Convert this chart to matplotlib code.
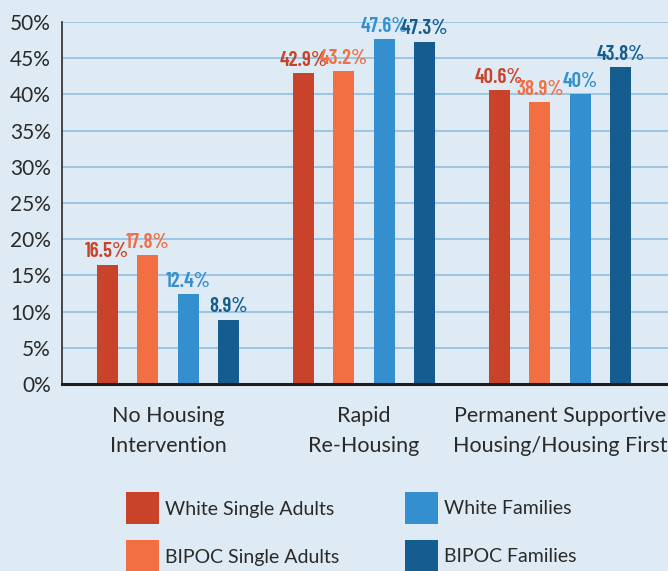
import numpy as np
import matplotlib
matplotlib.use("Agg")
import matplotlib.pyplot as plt
from matplotlib.patches import Rectangle

categories = ["No Housing\nIntervention", "Rapid\nRe-Housing", "Permanent Supportive\nHousing/Housing First"]
series = ["White Single Adults", "BIPOC Single Adults", "White Families", "BIPOC Families"]
values = [
    [16.5, 42.9, 40.6],
    [17.8, 43.2, 38.9],
    [12.4, 47.6, 40.0],
    [8.9, 47.3, 43.8],
]
value_labels = [
    ["16.5%", "42.9%", "40.6%"],
    ["17.8%", "43.2%", "38.9%"],
    ["12.4%", "47.6%", "40%"],
    ["8.9%", "47.3%", "43.8%"],
]
colors = ["#c9432a", "#f26f44", "#348fcf", "#155d8f"]
bg = "#deebf4"
txt = "#2a2a2a"

fig = plt.figure(figsize=(6.68, 5.71), dpi=100, facecolor=bg)
ax = fig.add_axes([62/668, 187/571, 606/668, 362/571])
ax.set_facecolor(bg)

x = np.arange(len(categories))
width = 0.107
offsets = np.array([-1.5, -0.5, 0.5, 1.5]) * 0.207

for i in range(len(series)):
    ax.bar(x + offsets[i], values[i], width, color=colors[i], zorder=3)
    for j in range(len(categories)):
        ax.text(x[j] + offsets[i], values[i][j] + 1.0, value_labels[i][j],
                ha="center", va="baseline", color=colors[i], fontsize=15,
                family=["Barlow Condensed", "DejaVu Sans"], fontweight="semibold", zorder=4)

ax.set_xlim(-0.541, 2.551)
ax.set_ylim(0, 50)
ax.set_yticks(np.arange(0, 51, 5))
ax.set_yticklabels([f"{v}%" for v in range(0, 51, 5)], family="Lato", fontsize=15, color=txt)
ax.set_xticks(x)
ax.set_xticklabels(categories, family="Lato", fontsize=15.5, color=txt, linespacing=1.6)
ax.tick_params(axis="both", length=0)
ax.tick_params(axis="x", pad=16)
ax.tick_params(axis="y", pad=8)
ax.yaxis.grid(True, color="#8fbfe0", linewidth=1.2, zorder=0)
for s in ["top", "right"]:
    ax.spines[s].set_visible(False)
ax.spines["left"].set_color(txt)
ax.spines["left"].set_linewidth(1.2)
ax.spines["bottom"].set_color("#1e1e1e")
ax.spines["bottom"].set_linewidth(2.2)
ax.spines["bottom"].set_zorder(5)

# legend, two columns drawn by hand
leg_x = [126, 126, 405, 405]
leg_y = [508, 556, 508, 556]
for i in range(len(series)):
    fig.add_artist(Rectangle((leg_x[i] / 668, 1 - (leg_y[i] + 16) / 571), 33 / 668, 32 / 571,
                             transform=fig.transFigure, facecolor=colors[i], edgecolor="none"))
    fig.text((leg_x[i] + 39) / 668, 1 - (leg_y[i] + 1) / 571, series[i], family="Lato",
             fontsize=14, color=txt, va="center", ha="left")

fig.savefig("out.png", dpi=100, facecolor=bg)
